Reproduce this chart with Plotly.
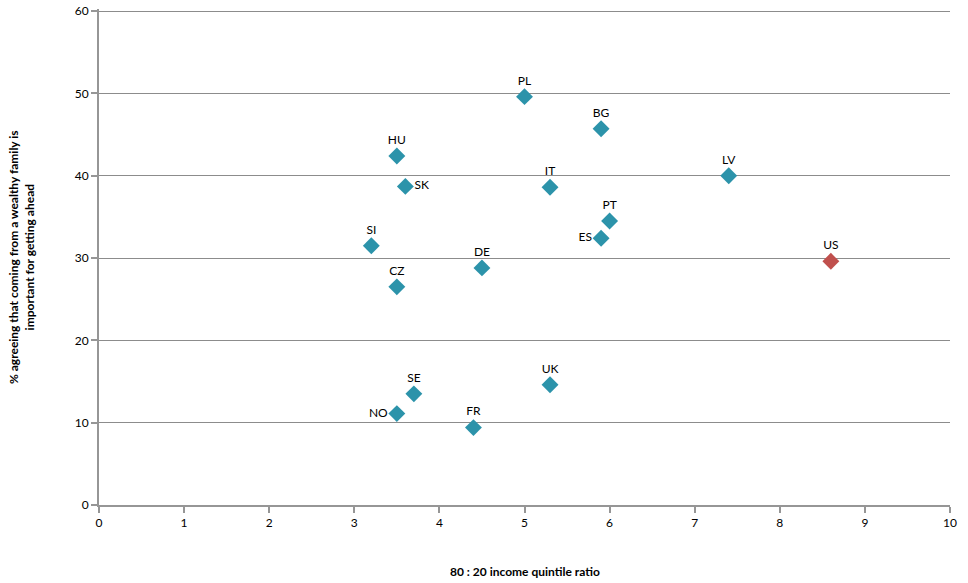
import plotly.graph_objects as go

countries = ["PL", "BG", "HU", "SK", "IT", "LV", "PT", "ES", "SI", "DE", "CZ", "UK", "SE", "NO", "FR"]
ratio = [5.0, 5.9, 3.5, 3.6, 5.3, 7.4, 6.0, 5.9, 3.2, 4.5, 3.5, 5.3, 3.7, 3.5, 4.4]
agree = [49.6, 45.7, 42.4, 38.7, 38.6, 40.0, 34.5, 32.4, 31.5, 28.8, 26.5, 14.6, 13.5, 11.1, 9.4]
label_pos = ["top center", "top center", "top center", "middle right", "top center", "top center",
             "top center", "middle left", "top center", "top center", "top center", "top center",
             "top center", "middle left", "top center"]

us_name = ["US"]
us_ratio = [8.6]
us_agree = [29.6]

font = "Lato, 'Open Sans', sans-serif"

fig = go.Figure()
fig.add_trace(go.Scatter(
    x=ratio, y=agree, mode="markers+text", text=countries, textposition=label_pos,
    marker=dict(symbol="diamond", size=13, color="#2C93AA"),
    textfont=dict(size=12, color="#000000", family=font),
    cliponaxis=False, showlegend=False,
))
fig.add_trace(go.Scatter(
    x=us_ratio, y=us_agree, mode="markers+text", text=us_name, textposition="top center",
    marker=dict(symbol="diamond", size=13, color="#C0504D"),
    textfont=dict(size=12, color="#000000", family=font),
    cliponaxis=False, showlegend=False,
))

fig.add_annotation(text="<b>80 : 20 income quintile ratio</b>", xref="paper", yref="paper",
                   x=0.5, y=0, yshift=-66, showarrow=False, font=dict(size=12),
                   xanchor="center", yanchor="middle")
fig.add_annotation(text="<b>% agreeing that coming from a wealthy family is<br>important for getting ahead</b>",
                   xref="paper", yref="paper", x=0, xshift=-78, y=0.5, showarrow=False,
                   textangle=-90, font=dict(size=12), xanchor="center", yanchor="middle")

fig.update_layout(
    width=968, height=583,
    margin=dict(l=99, r=18, t=9, b=78),
    plot_bgcolor="white", paper_bgcolor="white",
    font=dict(family=font, size=12, color="#000000"),
    xaxis=dict(
        range=[0, 10], dtick=1, showgrid=False, zeroline=False, automargin=False,
        showline=True, linecolor="#969696", linewidth=2,
        ticks="outside", ticklen=6, tickwidth=2, tickcolor="#969696",
        tickfont=dict(size=12), ticklabeloverflow="allow",
    ),
    yaxis=dict(
        range=[0, 60.25], tick0=0, dtick=10, showgrid=True, gridcolor="#8C8C8C", gridwidth=1,
        zeroline=False, showline=True, linecolor="#969696", linewidth=2, automargin=False,
        ticks="outside", ticklen=6, tickwidth=2, tickcolor="#969696",
        tickfont=dict(size=12), ticklabeloverflow="allow",
    ),
)

fig.write_html("out.html", config={"displayModeBar": False},
               post_script="document.body.style.margin='0';document.body.style.overflow='hidden';")
